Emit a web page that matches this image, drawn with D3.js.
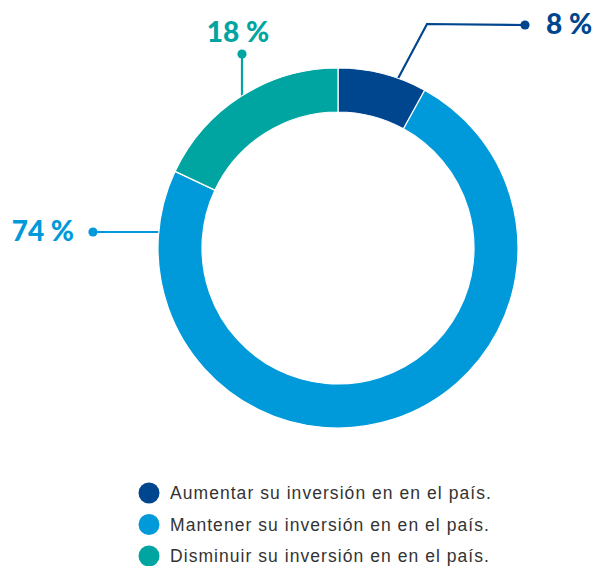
<!DOCTYPE html>
<html>
<head>
<meta charset="utf-8">
<script src="https://cdn.jsdelivr.net/npm/d3@7"></script>
<style>
  body { margin: 0; background: #fff; }
  svg { display: block; }
  .pct { font-family: Lato, "Open Sans", sans-serif; font-weight: 900; font-size: 28px; }
  .legend text { font-family: "Liberation Sans", Arial, sans-serif; font-size: 17.5px; letter-spacing: 1.05px; fill: #333; }
</style>
</head>
<body>
<svg id="chart" width="596" height="566"></svg>
<script>
// data
var categories = [
    "Aumentar su inversión en en el país.",
    "Mantener su inversión en en el país.",
    "Disminuir su inversión en en el país."
];
var shares = [8, 74, 18];
var valueLabels = ["8 %", "74 %", "18 %"];
var colors = ["#00468f", "#009ada", "#00a4a0"];

// leader layout, relative to the donut centre (angle in degrees, clockwise from top)
var leaders = [
    { angle: 19, bend: [89, -224], dot: [187, -223], anchor: "start", dx: 21, dy: 9 },
    { angle: 275, bend: null, dot: [-245, -16], anchor: "end", dx: -19, dy: 9 },
    { angle: null, bend: null, dot: [-96, -194], anchor: "middle", dx: -4, dy: -12 }
];

var svg = d3.select("#chart");
var cx = 338, cy = 248;
var outerR = 180, innerR = 136;

var pie = d3.pie().sort(null).value(function(d) { return d; });
var arcs = pie(shares);

var arc = d3.arc().innerRadius(innerR).outerRadius(outerR);

var g = svg.append("g").attr("transform", "translate(" + cx + "," + cy + ")");

function polar(deg, r) {
    var a = deg * Math.PI / 180;
    return [r * Math.sin(a), -r * Math.cos(a)];
}

// leader lines sit under the ring
var lines = g.append("g").attr("class", "leaders");
arcs.forEach(function(d, i) {
    var l = leaders[i];
    var p0;
    if (l.angle === null) {
        // straight up from the slice centre angle
        var mid = (d.startAngle + d.endAngle) / 2 * 180 / Math.PI;
        p0 = polar(mid, outerR - 10);
        p0[0] = l.dot[0];
    } else {
        p0 = polar(l.angle, outerR - 10);
        if (!l.bend) p0[1] = l.dot[1];
    }
    var pts = [p0];
    if (l.bend) pts.push(l.bend);
    pts.push(l.dot);

    lines.append("path")
        .attr("d", d3.line()(pts))
        .attr("fill", "none")
        .attr("stroke", colors[i])
        .attr("stroke-width", 2.2);

    lines.append("circle")
        .attr("cx", l.dot[0])
        .attr("cy", l.dot[1])
        .attr("r", 4.6)
        .attr("fill", colors[i]);

    g.append("text")
        .attr("class", "pct")
        .attr("x", l.dot[0] + l.dx)
        .attr("y", l.dot[1] + l.dy)
        .attr("text-anchor", l.anchor)
        .attr("fill", colors[i])
        .text(valueLabels[i]);
});

g.append("g").selectAll("path")
    .data(arcs)
    .join("path")
    .attr("d", arc)
    .attr("fill", function(d, i) { return colors[i]; })
    .attr("stroke", "#fff")
    .attr("stroke-width", 1.2);

// legend
var legend = svg.append("g").attr("class", "legend")
    .attr("transform", "translate(149,493)");

var item = legend.selectAll("g")
    .data(categories)
    .join("g")
    .attr("transform", function(d, i) { return "translate(0," + (i * 31.5) + ")"; });

item.append("circle")
    .attr("r", 10.5)
    .attr("fill", function(d, i) { return colors[i]; });

item.append("text")
    .attr("x", 21)
    .attr("y", 6.3)
    .text(function(d) { return d; });
</script>
</body>
</html>
